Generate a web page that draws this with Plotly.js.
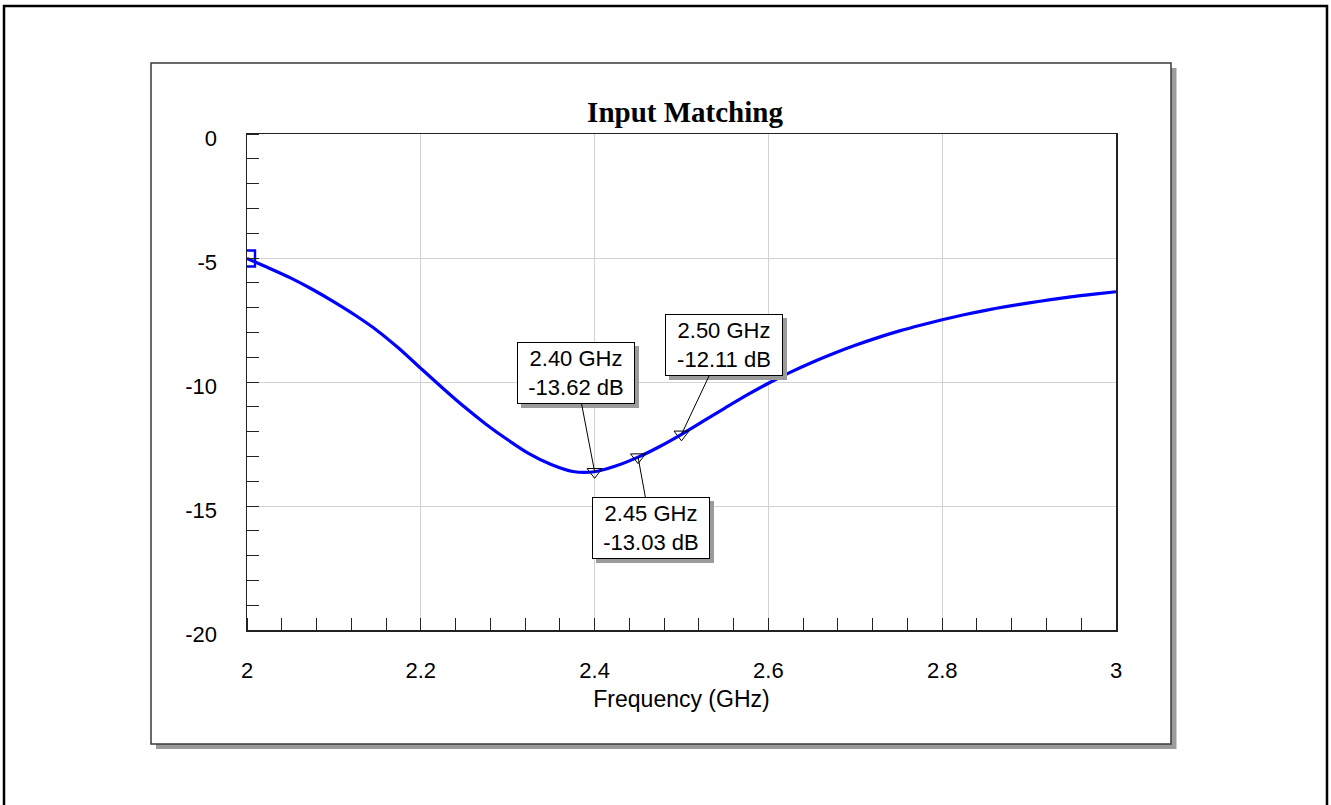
<!DOCTYPE html>
<html>
<head>
<meta charset="utf-8">
<script src="https://cdn.plot.ly/plotly-3.0.1.min.js"></script>
<style>html,body{margin:0;padding:0;background:#fff;}#chart{width:1331px;height:805px;}</style>
</head>
<body>
<div id="chart"></div>
<script>
// Data
const freqGHz = [2.000, 2.025, 2.050, 2.075, 2.100, 2.125, 2.150, 2.175, 2.200, 2.225,
                 2.250, 2.275, 2.300, 2.325, 2.350, 2.375, 2.400, 2.425, 2.450, 2.475,
                 2.500, 2.525, 2.550, 2.575, 2.600, 2.625, 2.650, 2.675, 2.700, 2.725,
                 2.750, 2.775, 2.800, 2.825, 2.850, 2.875, 2.900, 2.925, 2.950, 2.975, 3.000];
const s11dB   = [-5.02, -5.40, -5.80, -6.26, -6.77, -7.32, -7.93, -8.65, -9.45, -10.24,
                 -11.00, -11.70, -12.33, -12.90, -13.33, -13.61, -13.62, -13.38, -13.03, -12.60,
                 -12.11, -11.58, -11.05, -10.53, -10.05, -9.61, -9.21, -8.85, -8.52, -8.22,
                 -7.95, -7.71, -7.49, -7.29, -7.11, -6.95, -6.81, -6.68, -6.56, -6.46, -6.36];
const markerFreq = [2.40, 2.45, 2.50];
const markerdB   = [-13.62, -13.03, -12.11];
const xTickVals = [2, 2.2, 2.4, 2.6, 2.8, 3];
const xTickText = ['2', '2.2', '2.4', '2.6', '2.8', '3'];
const yTickVals = [0, -5, -10, -15, -20];
const yTickText = ['0', '-5', '-10', '-15', '-20'];

// Layout geometry (pixels)
const L = 247, R = 1116, T = 134, B = 630;
const W = R - L, H = B - T;
const px = x => (x - L) / W;
const py = y => (B - y) / H;

// label box offsets (pixels) from each marker
const boxOffsets = [[-19, -99], [13, 71], [42, -89]];

const font = 'Liberation Sans, Arial, sans-serif';

const traces = [
  {
    x: freqGHz, y: s11dB, type: 'scatter', mode: 'lines',
    line: {color: '#0000ff', width: 3.2, shape: 'spline', smoothing: 0.8},
    hoverinfo: 'x+y', showlegend: false
  },
  {
    x: [freqGHz[0]], y: [s11dB[0]], type: 'scatter', mode: 'markers',
    marker: {symbol: 'square-open', size: 16, color: '#0000ff', line: {width: 2.4, color: '#0000ff'}},
    cliponaxis: true, showlegend: false, hoverinfo: 'skip'
  },
  {
    x: markerFreq, y: markerdB, type: 'scatter', mode: 'markers',
    marker: {symbol: 'triangle-down-open', size: 13, color: '#000', line: {width: 1, color: '#000'}},
    cliponaxis: false, showlegend: false
  }
];

const annotations = [];
markerFreq.forEach((f, i) => {
  const [ax, ay] = boxOffsets[i];
  annotations.push({
    x: f, y: markerdB[i], xref: 'x', yref: 'y', showarrow: false,
    xanchor: 'center', yanchor: 'middle', xshift: ax + 4, yshift: -ay - 4,
    text: ' ', font: {family: font, size: 22, color: '#999'},
    bgcolor: '#9b9b9b', bordercolor: '#9b9b9b', borderwidth: 1, borderpad: 4,
    width: 108, height: 52
  });
});
markerFreq.forEach((f, i) => {
  const txt = f.toFixed(2) + ' GHz<br>' + markerdB[i].toFixed(2) + ' dB';
  const [ax, ay] = boxOffsets[i];
  annotations.push({
    x: f, y: markerdB[i], xref: 'x', yref: 'y', showarrow: true,
    ax: ax, ay: ay, arrowhead: 0, arrowwidth: 1, arrowcolor: '#000', standoff: 0,
    text: txt, font: {family: font, size: 22, color: '#000'},
    bgcolor: '#fff', bordercolor: '#000', borderwidth: 1, borderpad: 4,
    width: 108, height: 52
  });
});

const shapes = [
  {type: 'rect', xref: 'paper', yref: 'paper', layer: 'below',
   x0: px(4), x1: px(1327), y0: py(6), y1: py(830),
   line: {color: '#000', width: 2.5}, fillcolor: 'rgba(0,0,0,0)'},
  {type: 'rect', xref: 'paper', yref: 'paper', layer: 'below',
   x0: px(156), x1: px(1176.5), y0: py(68), y1: py(749),
   line: {width: 0}, fillcolor: '#9b9b9b'},
  {type: 'rect', xref: 'paper', yref: 'paper', layer: 'below',
   x0: px(151), x1: px(1171), y0: py(63), y1: py(744),
   line: {color: '#3a3a3a', width: 1.5}, fillcolor: '#fff'}
];

const layout = {
  width: 1331, height: 805,
  margin: {l: L, r: 1331 - R, t: T, b: 805 - B, pad: 0},
  paper_bgcolor: '#fff', plot_bgcolor: '#fff',
  showlegend: false,
  title: {
    text: '<b>Input Matching</b>',
    font: {family: 'Liberation Serif, Times New Roman, serif', size: 29, color: '#000'},
    x: px(685), xref: 'paper', xanchor: 'center',
    y: 1 - 112 / 805, yref: 'container', yanchor: 'middle'
  },
  xaxis: {
    range: [2, 3], autorange: false,
    tickvals: xTickVals, ticktext: xTickText, ticks: '',
    tickfont: {family: font, size: 22, color: '#000'},
    ticklabelstandoff: 20,
    showgrid: true, gridcolor: '#d2d2d2', gridwidth: 1,
    zeroline: false,
    showline: true, linecolor: '#222', linewidth: 1.5, mirror: true,
    minor: {dtick: 0.04, tick0: 2, ticks: 'inside', ticklen: 12, tickcolor: '#222', tickwidth: 1, showgrid: false},
    title: {text: 'Frequency (GHz)', font: {family: font, size: 23, color: '#000'}, standoff: 9},
    automargin: false
  },
  yaxis: {
    range: [-20, 0], autorange: false,
    tickvals: yTickVals, ticktext: yTickText, ticks: '',
    tickfont: {family: font, size: 22, color: '#000'},
    ticklabelstandoff: 24, ticklabelshift: 4,
    showgrid: true, gridcolor: '#d2d2d2', gridwidth: 1,
    zeroline: false,
    showline: true, linecolor: '#222', linewidth: 1.5, mirror: true,
    minor: {dtick: 1, tick0: 0, ticks: 'inside', ticklen: 12, tickcolor: '#222', tickwidth: 1, showgrid: false},
    automargin: false
  },
  shapes: shapes,
  annotations: annotations
};

Plotly.newPlot('chart', traces, layout, {displayModeBar: false, staticPlot: true});
</script>
</body>
</html>
